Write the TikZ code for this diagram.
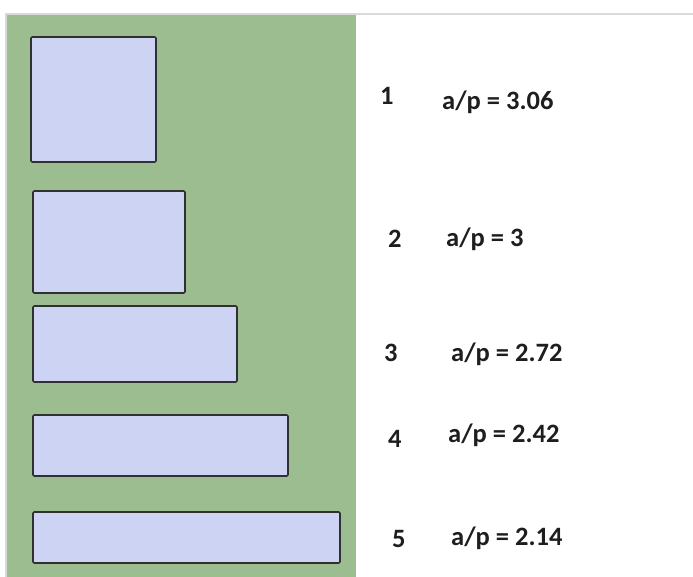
\documentclass[tikz,border=0pt]{standalone}
\usepackage{fontspec}
\setmainfont{Carlito}
\definecolor{panelgreen}{HTML}{9BBD8F}
\definecolor{boxfill}{HTML}{CCD3F3}
\definecolor{boxline}{HTML}{303030}
\definecolor{rulegrey}{HTML}{D9D9D9}
\definecolor{txt}{HTML}{1E1E1E}
\tikzset{
  shapebox/.style={draw=boxline, fill=boxfill, line width=1.6pt, rounded corners=1.2pt},
  lbl/.style={anchor=base west, inner sep=0pt, text=txt, font=\fontsize{26.5}{30}\selectfont\bfseries},
}
\begin{document}
\begin{tikzpicture}[x=1pt,y=-1pt]
\useasboundingbox (0,0) rectangle (693,577);
\fill[white] (0,0) rectangle (693,577);
\fill[rulegrey] (5,13) rectangle (693,15);
\fill[rulegrey] (5,13) rectangle (7,577);
\fill[panelgreen] (7,15) rectangle (356,577);
\draw[shapebox] (31,37) rectangle (156,162);
\draw[shapebox] (33,191) rectangle (185,293);
\draw[shapebox] (33,306) rectangle (237,382);
\draw[shapebox] (33,415) rectangle (288,476);
\draw[shapebox] (33,512) rectangle (340,563);
\node[lbl] (n1) at (380,105) {1};
\node[lbl] (r1) at (442,110) {a/p = 3.06};
\node[lbl] (n2) at (388,248) {2};
\node[lbl] (r2) at (446,247) {a/p = 3};
\node[lbl] (n3) at (384,361) {3};
\node[lbl] (r3) at (451,361) {a/p = 2.72};
\node[lbl] (n4) at (388,447) {4};
\node[lbl] (r4) at (448,442) {a/p = 2.42};
\node[lbl] (n5) at (392,547) {5};
\node[lbl] (r5) at (451,545) {a/p = 2.14};
\end{tikzpicture}
\end{document}
